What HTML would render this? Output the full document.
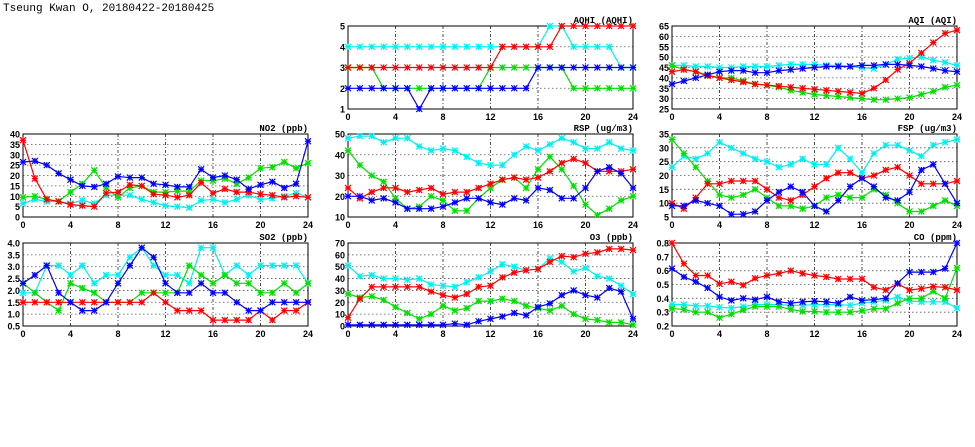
<!DOCTYPE html>
<html><head><meta charset="utf-8"><style>
body{margin:0;background:#fff;width:975px;height:447px;overflow:hidden}
svg{display:block}
</style></head><body>
<svg id="c" width="975" height="447" xmlns="http://www.w3.org/2000/svg">
<text x="3" y="11" font-family="Liberation Mono, monospace" font-size="11">Tseung Kwan O, 20180422-20180425</text>
</svg>
<script>
const hours=[0,1,2,3,4,5,6,7,8,9,10,11,12,13,14,15,16,17,18,19,20,21,22,23,24];
const xTicks=[0,4,8,12,16,20,24];
const aqhiCyan=[4,4,4,4,4,4,4,4,4,4,4,4,4,4,4,4,4,5,5,4,4,4,4,3,3];
const aqhiGreen=[3,3,3,2,2,2,2,2,2,2,2,2,3,3,3,3,3,3,3,2,2,2,2,2,2];
const aqhiRed=[3,3,3,3,3,3,3,3,3,3,3,3,3,4,4,4,4,4,5,5,5,5,5,5,5];
const aqhiBlue=[2,2,2,2,2,2,1,2,2,2,2,2,2,2,2,2,3,3,3,3,3,3,3,3,3];
const aqiCyan=[46,46,45.5,45.5,45,45,45.5,45.5,45.5,46,46.5,46.5,46.5,46,46,45.5,45,44.5,46.5,49,49.5,50,48.5,47.5,46];
const aqiGreen=[46,44,43,41.5,40,40,38.5,37,36.5,35.5,34,33,32,31.5,31,30.5,30,29.5,29.5,30,30.5,32,33.5,35.5,36.5];
const aqiRed=[43,44,43,41,40,39,38,37,36.5,36,35.5,35,34.5,34,33.5,33,32.5,35,39,44,47,52,57,61.5,63];
const aqiBlue=[37,38.5,40,41.5,43,43.5,43.5,42.5,42.5,43.5,44,44.5,45,45.5,45.5,45.5,46,46,46.5,46.5,46,45.5,44.5,43.5,43];
const no2Cyan=[6.5,8.5,7.5,7.5,6.5,8,6.5,10.5,10.5,10.5,8.5,7,5.5,5,4.5,8,8.5,7,8.5,10.5,8.5,9,10,11.5,9.5];
const no2Green=[9.5,10,8.5,7.5,12,16,22.5,14,9.5,14,15,12,12,12.5,12.5,17.5,17.5,18.5,16,19,23.5,24,26.5,23.5,26];
const no2Red=[37,18.5,8.5,7.5,6,5.5,5,11.5,12,15.5,15,11,10.5,9.5,10.5,16.5,11.5,13.5,12,12,11,10.5,9.5,10,9.5];
const no2Blue=[26.5,27,25,21,18,15,14.5,16,19.5,19,19,16,15.5,14.5,14.5,23,19,20,18,13.5,15.5,17,14,16,36.5];
const rspCyan=[48,49,49,46,48,48,44,42,43,42,39,36,35,35,40,44,42,45,48,46,43,43,46,43,42];
const rspGreen=[42,35,30,27,19,14,15,20,18,13,13,19,24,28,29,24,33,39,33,25,16,11,14,18,20];
const rspRed=[24,19,22,24,24,22,23,24,21,22,22,24,26,28,29,28,29,32,36,38,36,32,32,32,33];
const rspBlue=[20,20,18,19,17,14,14,14,15,17,19,19,17,16,19,18,24,23,19,19,24,32,34,31,24];
const fspCyan=[23,27,26,28,32,30,28,26,25,23,24,26,24,24,30,26,21,28,31,31,29,27,31,32,33];
const fspGreen=[33,28,23,18,13,12,13,15,12,9,9,8,9,12,13,12,12,15,13,10,7,7,9,11,9];
const fspRed=[10,8,12,17,17,18,18,18,15,12,11,13,16,19,21,21,19,20,22,23,20,17,17,17,18];
const fspBlue=[9,9,11,10,9,6,6,7,11,14,16,14,9,7,11,16,19,16,12,11,14,22,24,17,10];
const so2Cyan=[1.9,1.9,3.05,3.05,2.65,3.05,2.3,2.65,2.65,3.4,3.8,3.05,2.65,2.65,2.3,3.8,3.8,2.65,3.05,2.65,3.05,3.05,3.05,3.05,2.3];
const so2Green=[2.3,1.9,1.5,1.15,2.3,2.1,1.9,1.5,1.5,1.5,1.9,1.9,1.9,1.9,3.05,2.65,2.3,2.65,2.3,2.3,1.9,1.9,2.3,1.9,2.3];
const so2Red=[1.5,1.5,1.5,1.5,1.5,1.5,1.5,1.5,1.5,1.5,1.5,1.9,1.5,1.15,1.15,1.15,0.75,0.75,0.75,0.75,1.15,0.75,1.15,1.15,1.5];
const so2Blue=[2.3,2.65,3.05,1.9,1.5,1.15,1.15,1.5,2.3,3.05,3.8,3.4,2.3,1.9,1.9,2.3,1.9,1.9,1.5,1.15,1.15,1.5,1.5,1.5,1.5];
const o3Cyan=[51,42,43,40,40,39,40,35,34,33,37,41,46,52,50,47,48,57,54,46,49,42,40,34,27];
const o3Green=[27,24,25,22,16,11,6,10,17,13,15,21,21,23,21,17,15,13,17,10,6,5,3,3,1];
const o3Red=[7,23,33,33,33,33,33,29,26,24,27,33,34,41,45,47,48,54,59,58,61,62,65,65,64];
const o3Blue=[1,1,1,1,1,1,1,1,1,2,1,4,6,8,11,9,16,19,26,30,26,24,32,29,6];
const coCyan=[0.355,0.355,0.345,0.345,0.335,0.33,0.34,0.355,0.355,0.355,0.35,0.35,0.355,0.355,0.355,0.35,0.365,0.375,0.385,0.41,0.38,0.375,0.375,0.375,0.33];
const coGreen=[0.325,0.32,0.3,0.3,0.26,0.285,0.315,0.34,0.34,0.34,0.32,0.305,0.305,0.3,0.3,0.3,0.31,0.325,0.325,0.365,0.4,0.4,0.45,0.4,0.62];
const coRed=[0.8,0.65,0.565,0.565,0.505,0.52,0.495,0.545,0.565,0.58,0.6,0.58,0.565,0.555,0.54,0.54,0.54,0.48,0.46,0.505,0.46,0.47,0.485,0.48,0.46];
const coBlue=[0.615,0.555,0.52,0.475,0.41,0.385,0.4,0.39,0.41,0.375,0.365,0.375,0.38,0.375,0.365,0.41,0.385,0.39,0.4,0.51,0.59,0.59,0.59,0.615,0.8];
const aqhiTicks=[1,2,3,4,5];
const aqiTicks=[25,30,35,40,45,50,55,60,65];
const no2Ticks=[0,5,10,15,20,25,30,35,40];
const rspTicks=[10,20,30,40,50];
const fspTicks=[5,10,15,20,25,30,35];
const so2Ticks=[0.5,1.0,1.5,2.0,2.5,3.0,3.5,4.0];
const o3Ticks=[0,10,20,30,40,50,60,70];
const coTicks=[0.2,0.3,0.4,0.5,0.6,0.7,0.8];

const NS='http://www.w3.org/2000/svg';
const svg=document.getElementById('c');
const COLORS={cyan:'#00f0f0',green:'#00e000',red:'#ff0000',blue:'#0000ff'};
function mk(tag,attrs,parent){const e=document.createElementNS(NS,tag);for(const k in attrs)e.setAttribute(k,attrs[k]);(parent||svg).appendChild(e);return e;}

const panels=[
 {key:'aqhi',title:'AQHI (AQHI)',x:348,y:26,ticks:aqhiTicks,dec:0,series:[['cyan',aqhiCyan],['green',aqhiGreen],['red',aqhiRed],['blue',aqhiBlue]]},
 {key:'aqi',title:'AQI (AQI)',x:672,y:26,ticks:aqiTicks,dec:0,series:[['cyan',aqiCyan],['green',aqiGreen],['red',aqiRed],['blue',aqiBlue]]},
 {key:'no2',title:'NO2 (ppb)',x:23,y:134,ticks:no2Ticks,dec:0,series:[['cyan',no2Cyan],['green',no2Green],['red',no2Red],['blue',no2Blue]]},
 {key:'rsp',title:'RSP (ug/m3)',x:348,y:134,ticks:rspTicks,dec:0,series:[['cyan',rspCyan],['green',rspGreen],['red',rspRed],['blue',rspBlue]]},
 {key:'fsp',title:'FSP (ug/m3)',x:672,y:134,ticks:fspTicks,dec:0,series:[['cyan',fspCyan],['green',fspGreen],['red',fspRed],['blue',fspBlue]]},
 {key:'so2',title:'SO2 (ppb)',x:23,y:243,ticks:so2Ticks,dec:1,series:[['cyan',so2Cyan],['green',so2Green],['red',so2Red],['blue',so2Blue]]},
 {key:'o3',title:'O3 (ppb)',x:348,y:243,ticks:o3Ticks,dec:0,series:[['cyan',o3Cyan],['green',o3Green],['red',o3Red],['blue',o3Blue]]},
 {key:'co',title:'CO (ppm)',x:672,y:243,ticks:coTicks,dec:1,series:[['cyan',coCyan],['green',coGreen],['red',coRed],['blue',coBlue]]}
];
const W=285,H=83;
panels.forEach(p=>{
  const g=mk('g',{});
  
  
  const ymin=p.ticks[0],ymax=p.ticks[p.ticks.length-1];
  const sx=v=>p.x+(v-hours[0])/(hours[hours.length-1]-hours[0])*W;
  const sy=v=>p.y+H-(v-ymin)/(ymax-ymin)*H;
  p.ticks.forEach(t=>{
    const yy=sy(t);
    const gl=mk('line',{x1:p.x,x2:p.x+W,y1:yy,y2:yy,stroke:'#555','stroke-width':0.8,'stroke-dasharray':'1.5,2.5'},g);
    
    
    const tl=mk('text',{x:p.x-3,y:yy+3.5,'text-anchor':'end','font-family':'Liberation Sans, sans-serif','font-size':9,'font-weight':'bold'},g);
    tl.textContent=t.toFixed(p.dec);
    
    
  });
  xTicks.forEach(t=>{
    const xx=sx(t);
    const gl=mk('line',{x1:xx,x2:xx,y1:p.y,y2:p.y+H,stroke:'#222','stroke-width':0.8,'stroke-dasharray':'3,2,1,2'},g);
    
    
    const tl=mk('text',{x:xx,y:p.y+H+11,'text-anchor':'middle','font-family':'Liberation Sans, sans-serif','font-size':9,'font-weight':'bold'},g);
    tl.textContent=t;
    
    
  });
  const fr=mk('rect',{x:p.x,y:p.y,width:W,height:H,fill:'none',stroke:'#000','stroke-width':1},g);
  
  
  const tt=mk('text',{x:p.x+W,y:p.y-3,'text-anchor':'end','font-family':'Liberation Mono, monospace','font-size':9,'font-weight':'bold'},g);
  tt.textContent=p.title;
  
  
  p.series.forEach(([c,vals])=>{
    const col=COLORS[c];
    const pts=vals.map((v,i)=>sx(hours[i]).toFixed(1)+','+sy(v).toFixed(1)).join(' ');
    const pl=mk('polyline',{points:pts,fill:'none',stroke:col,'stroke-width':1.2},g);
    
    
    vals.forEach((v,i)=>{
      const cx=sx(hours[i]),cy=sy(v),r=3;
      const m=mk('path',{d:`M${cx-r},${cy-r}L${cx+r},${cy+r}M${cx-r},${cy+r}L${cx+r},${cy-r}M${cx-r},${cy}L${cx+r},${cy}M${cx},${cy-r}L${cx},${cy+r}`,stroke:col,'stroke-width':1.2,fill:'none'},g);
      
      
    });
  });
});
</script>
</body></html>
